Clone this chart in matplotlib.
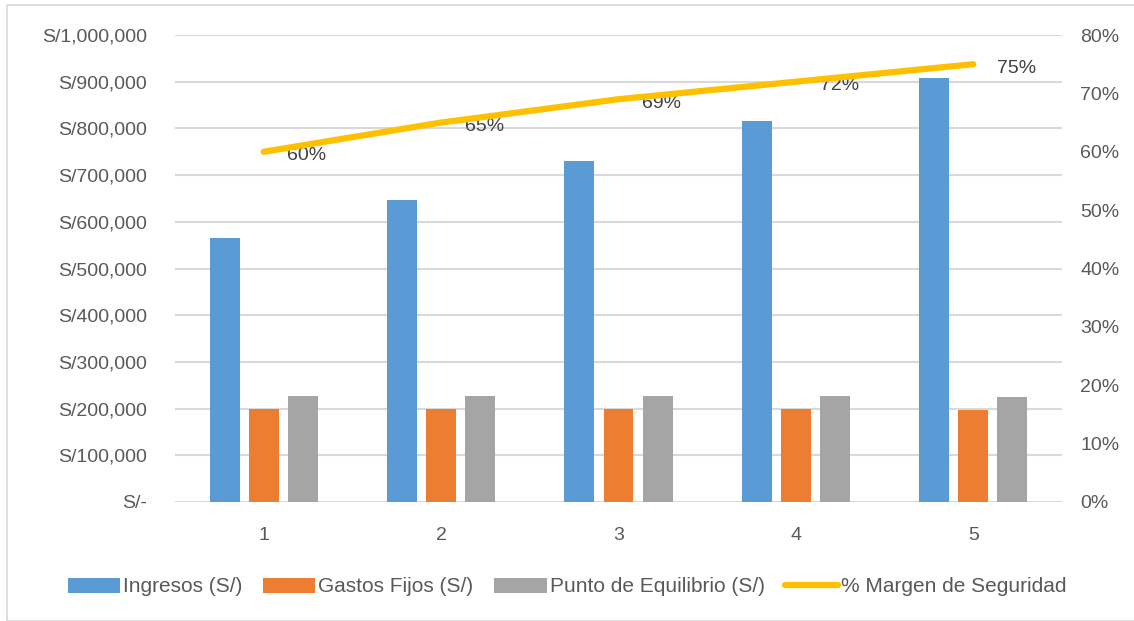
import numpy as np
import matplotlib.pyplot as plt
from matplotlib.patches import Rectangle
from matplotlib.ticker import FuncFormatter, PercentFormatter

# data
periods = ['1', '2', '3', '4', '5']
ingresos = [565000, 647000, 730000, 816000, 907000]
gastos_fijos = [200000, 200000, 200000, 200000, 198000]
punto_equilibrio = [227000, 227000, 227000, 227000, 224000]
margen = [0.60, 0.65, 0.69, 0.72, 0.75]

plt.rcParams['font.family'] = ['Liberation Sans', 'DejaVu Sans']
txt = '#595959'
grid_c = '#d9d9d9'

fig = plt.figure(figsize=(11.34, 6.21), dpi=100)
ax = fig.add_axes([175 / 1134, 1 - 502 / 621, (1062 - 175) / 1134, (502 - 35) / 621])
ax2 = ax.twinx()

x = np.arange(len(periods))
w = 0.169
step = 0.22
b1 = ax.bar(x - step, ingresos, w, color='#5b9bd5', label='Ingresos (S/)', zorder=3)
b2 = ax.bar(x, gastos_fijos, w, color='#ed7d31', label='Gastos Fijos (S/)', zorder=3)
b3 = ax.bar(x + step, punto_equilibrio, w, color='#a5a5a5', label='Punto de Equilibrio (S/)', zorder=3)

ln, = ax2.plot(x, margen, color='#ffc000', lw=4.5, solid_capstyle='round',
               label='% Margen de Seguridad', zorder=4)
for xi, m in zip(x, margen):
    ax2.annotate(f'{m:.0%}', (xi, m), xytext=(17, -3), textcoords='offset points',
                 ha='left', va='center', fontsize=14, color='#404040')

ax.set_xlim(-0.5, len(periods) - 0.5)
ax.set_ylim(0, 1000000)
ax.set_yticks(np.arange(0, 1000001, 100000))
ax.yaxis.set_major_formatter(FuncFormatter(lambda v, p: 'S/-' if v == 0 else f'S/{v:,.0f}'))
ax2.set_ylim(0, 0.8)
ax2.set_yticks(np.arange(0, 0.81, 0.1))
ax2.yaxis.set_major_formatter(PercentFormatter(1.0, decimals=0))

ax.set_xticks(x)
ax.set_xticklabels(periods)
ax.grid(axis='y', color=grid_c, lw=1.5, zorder=0)
ax.set_axisbelow(True)
for a in (ax, ax2):
    for s in a.spines.values():
        s.set_visible(False)
    a.tick_params(length=0, labelsize=14, colors=txt)
ax.tick_params(axis='y', pad=20)
ax.tick_params(axis='x', pad=18)
ax2.tick_params(axis='y', pad=13)

fig.legend(handles=[b1, b2, b3, ln], loc='center', bbox_to_anchor=(0.5, 1 - 587 / 621),
           ncol=4, frameon=False, fontsize=15, labelcolor=txt, handlelength=2.5,
           handletextpad=0.15, columnspacing=1.0)

fig.patches.append(Rectangle((7 / 1134, 0), 1.2, 1 - 5 / 621, transform=fig.transFigure,
                             fill=False, edgecolor=grid_c, lw=1.2))

fig.savefig('out.png', dpi=100)
